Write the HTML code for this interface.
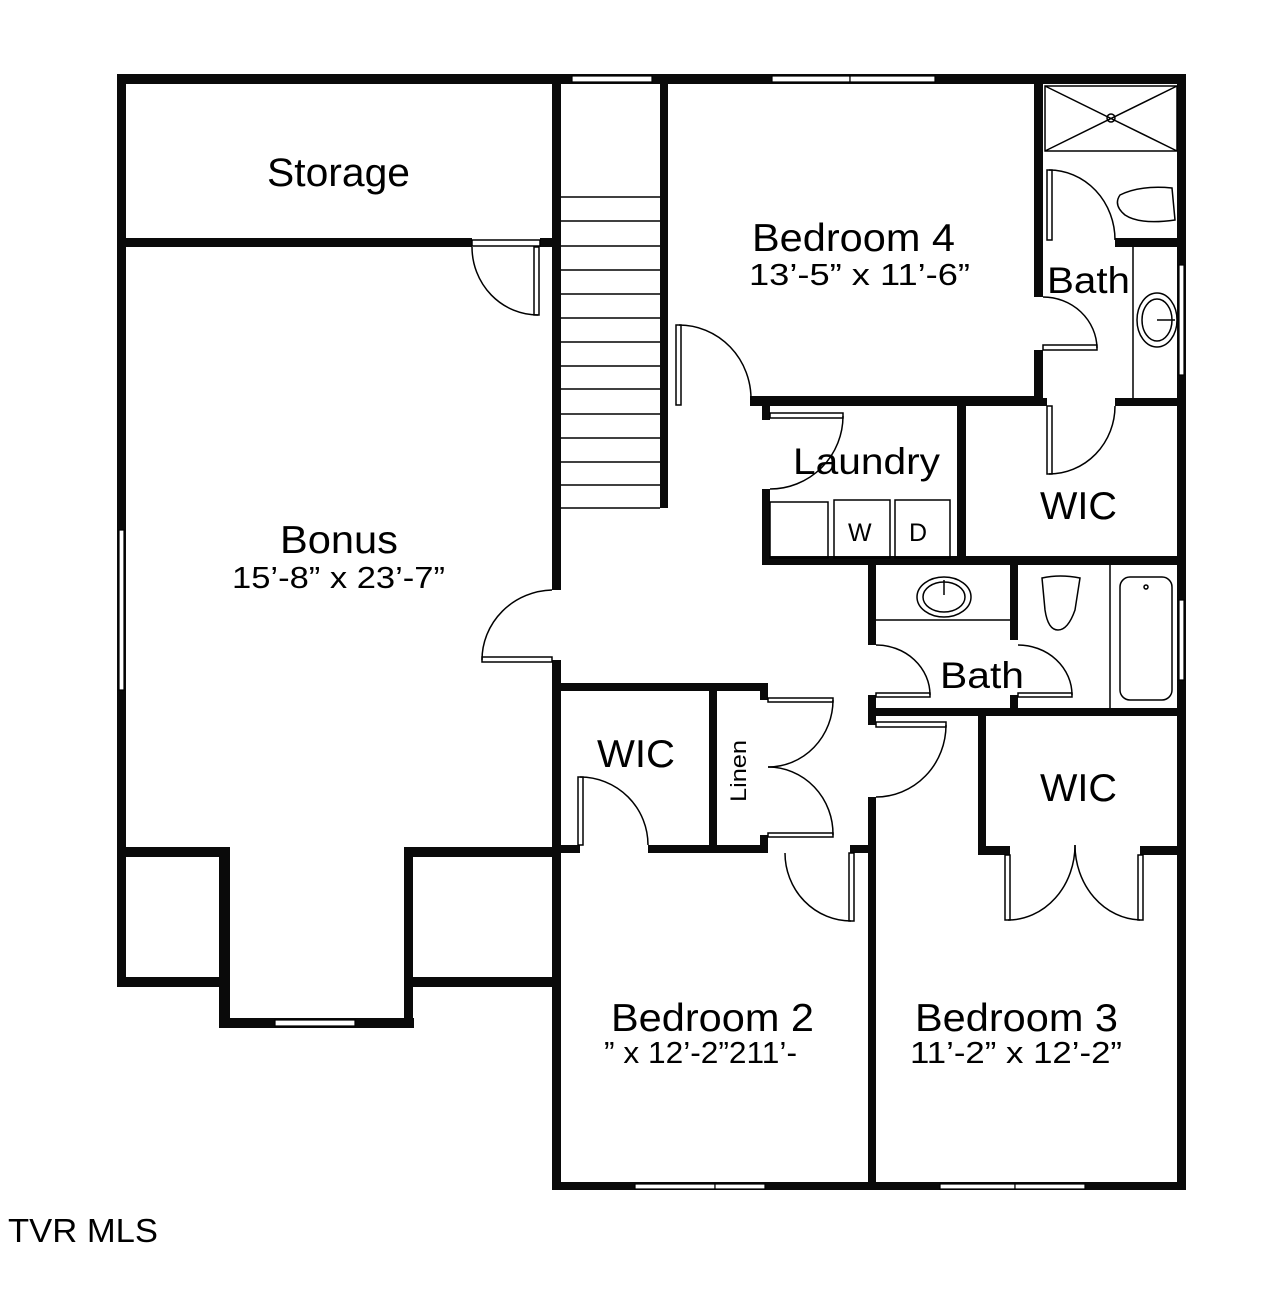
<!DOCTYPE html>
<html><head><meta charset="utf-8"><style>
html,body{margin:0;padding:0;background:#fff;}
svg{display:block;}
text{font-family:"Liberation Sans",Arial,sans-serif;fill:#000;}
</style></head><body>
<svg width="1280" height="1290" viewBox="0 0 1280 1290" xmlns="http://www.w3.org/2000/svg">
<g fill="#0a0a0a">
<rect x="117" y="74" width="1069" height="10"/>
<rect x="117" y="74" width="9" height="913"/>
<rect x="117" y="238" width="355" height="9"/>
<rect x="540" y="238" width="21" height="9"/>
<rect x="552" y="74" width="9" height="516"/>
<rect x="552" y="660" width="9" height="530"/>
<rect x="660" y="84" width="8" height="424"/>
<rect x="117" y="847" width="113" height="10"/>
<rect x="117" y="977" width="113" height="10"/>
<rect x="219" y="847" width="11" height="181"/>
<rect x="219" y="1018" width="195" height="10"/>
<rect x="404" y="847" width="9" height="181"/>
<rect x="404" y="847" width="157" height="10"/>
<rect x="404" y="977" width="157" height="10"/>
<rect x="1034" y="84" width="9" height="213"/>
<rect x="1034" y="350" width="9" height="56"/>
<rect x="750" y="396" width="293" height="10"/>
<rect x="1043" y="398" width="4" height="8"/>
<rect x="1115" y="398" width="71" height="8"/>
<rect x="1115" y="238" width="71" height="9"/>
<rect x="1177" y="74" width="9" height="1116"/>
<rect x="762" y="406" width="8" height="14"/>
<rect x="762" y="489" width="8" height="76"/>
<rect x="957" y="403" width="9" height="162"/>
<rect x="762" y="556" width="424" height="9"/>
<rect x="868" y="565" width="8" height="80"/>
<rect x="868" y="695" width="8" height="30"/>
<rect x="1010" y="565" width="8" height="75"/>
<rect x="1010" y="695" width="8" height="15"/>
<rect x="868" y="708" width="318" height="8"/>
<rect x="868" y="797" width="8" height="393"/>
<rect x="978" y="716" width="8" height="139"/>
<rect x="978" y="846" width="32" height="9"/>
<rect x="1140" y="846" width="46" height="9"/>
<rect x="553" y="683" width="215" height="8"/>
<rect x="760" y="683" width="8" height="17"/>
<rect x="709" y="691" width="8" height="162"/>
<rect x="553" y="845" width="27" height="8"/>
<rect x="648" y="845" width="120" height="8"/>
<rect x="760" y="835" width="8" height="18"/>
<rect x="850" y="845" width="26" height="8"/>
<rect x="553" y="1182" width="633" height="8"/>
</g>
<g fill="#fff" stroke="#000" stroke-width="1.2">
<rect x="572" y="76" width="80" height="6"/>
<rect x="772" y="76" width="78" height="6"/>
<rect x="850" y="76" width="85" height="6"/>
<rect x="275" y="1020" width="80" height="6"/>
<rect x="119" y="530" width="5" height="160"/>
<rect x="1179" y="265" width="5" height="110"/>
<rect x="1179" y="600" width="5" height="80"/>
<rect x="635" y="1184" width="80" height="5"/>
<rect x="715" y="1184" width="50" height="5"/>
<rect x="940" y="1184" width="75" height="5"/>
<rect x="1015" y="1184" width="70" height="5"/>
</g>
<g fill="none" stroke="#000" stroke-width="1.5">
<path d="M561 197H660M561 221H660M561 246H660M561 270H660M561 294H660M561 318H660M561 342H660M561 366H660M561 389H660M561 414H660M561 438H660M561 462H660M561 485H660M561 508H660"/>
<rect x="472" y="240" width="68" height="6"/>
<rect x="534" y="247" width="5" height="68"/>
<path d="M472 247A66 68 0 0 0 538 315"/>
<rect x="676" y="325" width="5" height="80"/>
<path d="M679 325A72 74 0 0 1 751 400"/>
<rect x="770" y="413" width="73" height="5"/>
<path d="M843 416A73 73 0 0 1 770 489"/>
<rect x="770" y="502" width="58" height="56"/>
<rect x="834" y="500" width="56" height="58"/>
<rect x="895" y="500" width="55" height="58"/>
<rect x="1045" y="86" width="132" height="65"/>
<path d="M1045 86L1177 151M1177 86L1045 151"/>
<circle cx="1111" cy="118" r="4"/>
<rect x="1047" y="170" width="5" height="70"/>
<path d="M1049 170A66 70 0 0 1 1115 240"/>
<path d="M1120 195Q1140 185 1172 188L1175 220Q1140 225 1125 215Q1113 205 1120 195Z"/>
<path d="M1133 247V398"/>
<ellipse cx="1157" cy="320" rx="20" ry="27"/>
<ellipse cx="1157" cy="320" rx="15" ry="21"/>
<path d="M1157 320H1175"/>
<rect x="1043" y="345" width="54" height="5"/>
<path d="M1043 297A54 52 0 0 1 1097 348"/>
<rect x="1047" y="406" width="5" height="68"/>
<path d="M1049 474A66 68 0 0 0 1115 406"/>
<rect x="482" y="657" width="70" height="5"/>
<path d="M552 590A72 70 0 0 0 482 660"/>
<path d="M876 620H1010"/>
<ellipse cx="944" cy="597" rx="27" ry="20"/>
<ellipse cx="944" cy="597" rx="21" ry="15"/>
<path d="M944 580V595"/>
<path d="M1042 578Q1060 574 1080 578L1075 610Q1068 630 1058 630Q1048 630 1045 610Z"/>
<path d="M1110 565V708"/>
<rect x="1120" y="577" width="52" height="123" rx="10"/>
<circle cx="1146" cy="587" r="2"/>
<rect x="876" y="693" width="54" height="4"/>
<path d="M876 645A54 50 0 0 1 930 695"/>
<rect x="1018" y="693" width="54" height="4"/>
<path d="M1018 645A54 50 0 0 1 1072 695"/>
<rect x="876" y="722" width="70" height="5"/>
<path d="M946 725A70 72 0 0 1 876 797"/>
<rect x="1005" y="855" width="5" height="65"/>
<rect x="1138" y="855" width="5" height="65"/>
<path d="M1008 920A67 75 0 0 0 1075 845"/>
<path d="M1140 920A67 75 0 0 1 1075 845"/>
<rect x="768" y="698" width="65" height="4"/>
<rect x="768" y="833" width="65" height="4"/>
<path d="M833 700A65 67 0 0 1 768 767"/>
<path d="M833 835A65 67 0 0 0 768 767"/>
<rect x="578" y="777" width="5" height="68"/>
<path d="M580 777A68 68 0 0 1 648 845"/>
<rect x="849" y="853" width="5" height="68"/>
<path d="M785 853A66 68 0 0 0 851 921"/>
</g>
<text x="267" y="186" font-size="40" textLength="143" lengthAdjust="spacingAndGlyphs">Storage</text>
<text x="752" y="251" font-size="39" textLength="203" lengthAdjust="spacingAndGlyphs">Bedroom 4</text>
<text x="749" y="285" font-size="31" textLength="221" lengthAdjust="spacingAndGlyphs">13’-5” x 11’-6”</text>
<text x="1047" y="293" font-size="37" textLength="83" lengthAdjust="spacingAndGlyphs">Bath</text>
<text x="793" y="474" font-size="37" textLength="147" lengthAdjust="spacingAndGlyphs">Laundry</text>
<text x="1040" y="519" font-size="39" textLength="77" lengthAdjust="spacingAndGlyphs">WIC</text>
<text x="280" y="553" font-size="39" textLength="118" lengthAdjust="spacingAndGlyphs">Bonus</text>
<text x="232" y="588" font-size="31" textLength="213" lengthAdjust="spacingAndGlyphs">15’-8” x 23’-7”</text>
<text x="940" y="688" font-size="37" textLength="84" lengthAdjust="spacingAndGlyphs">Bath</text>
<text x="597" y="767" font-size="39" textLength="78" lengthAdjust="spacingAndGlyphs">WIC</text>
<text x="1040" y="801" font-size="39" textLength="77" lengthAdjust="spacingAndGlyphs">WIC</text>
<text x="611" y="1031" font-size="39" textLength="203" lengthAdjust="spacingAndGlyphs">Bedroom 2</text>
<text x="604" y="1063" font-size="31" textLength="193" lengthAdjust="spacingAndGlyphs">” x 12’-2”211’-</text>
<text x="915" y="1031" font-size="39" textLength="203" lengthAdjust="spacingAndGlyphs">Bedroom 3</text>
<text x="910" y="1063" font-size="31" textLength="212" lengthAdjust="spacingAndGlyphs">11’-2” x 12’-2”</text>
<text x="848" y="541" font-size="25">W</text>
<text x="909" y="541" font-size="25">D</text>
<text x="0" y="0" font-size="22" textLength="62" lengthAdjust="spacingAndGlyphs" transform="translate(746 802) rotate(-90)">Linen</text>
<text x="8" y="1242" font-size="33" textLength="150" lengthAdjust="spacingAndGlyphs">TVR MLS</text>
</svg>
</body></html>
